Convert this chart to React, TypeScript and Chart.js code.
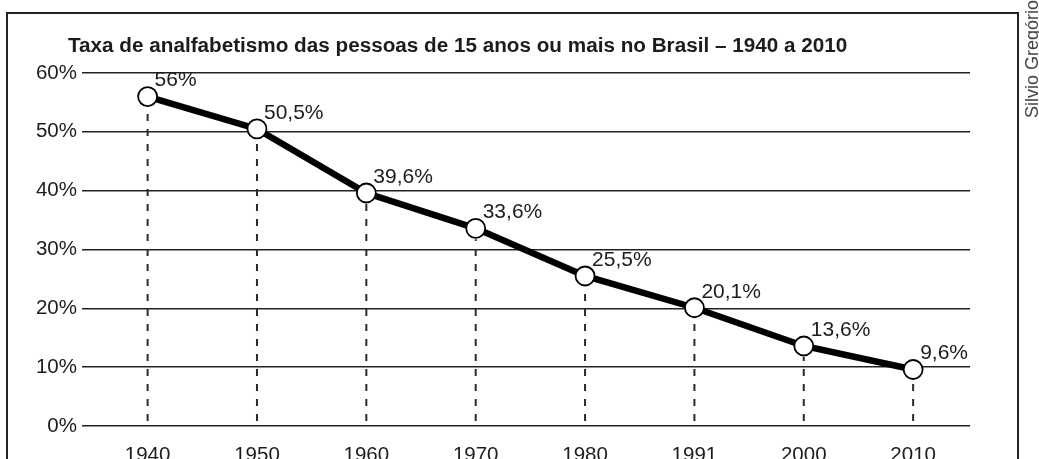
import React, { useEffect, useRef } from "react";
import { Chart, registerables } from "chart.js";

Chart.register(...registerables);

const years = ["1940", "1950", "1960", "1970", "1980", "1991", "2000", "2010"];
const rates = [56, 50.5, 39.6, 33.6, 25.5, 20.1, 13.6, 9.6];
const rateLabels = ["56%", "50,5%", "39,6%", "33,6%", "25,5%", "20,1%", "13,6%", "9,6%"];
const yTickValues = [0, 10, 20, 30, 40, 50, 60];
const chartTitle = "Taxa de analfabetismo das pessoas de 15 anos ou mais no Brasil – 1940 a 2010";
const credit = "Silvio Gregório";

const FONT = "'Liberation Sans', Arial, Helvetica, sans-serif";
const INK = "#1c1c1c";

const framePlugin = {
  id: "frame",
  beforeDraw(chart: any) {
    const { ctx, width, height } = chart;
    ctx.save();
    ctx.fillStyle = "#ffffff";
    ctx.fillRect(0, 0, width, height);
    // frame
    ctx.strokeStyle = "#222";
    ctx.lineWidth = 2;
    ctx.beginPath();
    ctx.moveTo(7, height + 5);
    ctx.lineTo(7, 13);
    ctx.lineTo(1018, 13);
    ctx.lineTo(1018, height + 5);
    ctx.stroke();
    // title
    ctx.fillStyle = INK;
    ctx.font = `bold 20.7px ${FONT}`;
    ctx.textAlign = "left";
    ctx.textBaseline = "middle";
    ctx.fillText(chartTitle, 68, 46);
    // credit (vertical)
    ctx.translate(1038, 118);
    ctx.rotate(-Math.PI / 2);
    ctx.fillStyle = "#444";
    ctx.font = `18px ${FONT}`;
    ctx.textBaseline = "alphabetic";
    ctx.fillText(credit, 0, 0);
    ctx.restore();
  },
};

const dropLinesPlugin = {
  id: "dropLines",
  beforeDatasetsDraw(chart: any) {
    const { ctx, chartArea } = chart;
    const meta = chart.getDatasetMeta(0);
    ctx.save();
    ctx.strokeStyle = "#2a2a2a";
    ctx.lineWidth = 2;
    ctx.setLineDash([7, 8]);
    meta.data.forEach((pt: any) => {
      ctx.beginPath();
      ctx.moveTo(pt.x, chartArea.bottom - 5);
      ctx.lineTo(pt.x, pt.y + 11);
      ctx.stroke();
    });
    ctx.restore();
  },
};

const valueLabelsPlugin = {
  id: "valueLabels",
  afterDatasetsDraw(chart: any) {
    const { ctx } = chart;
    const meta = chart.getDatasetMeta(0);
    ctx.save();
    ctx.fillStyle = INK;
    ctx.font = `21px ${FONT}`;
    ctx.textAlign = "left";
    ctx.textBaseline = "middle";
    meta.data.forEach((pt: any, i: number) => {
      ctx.fillText(rateLabels[i], pt.x + 7, pt.y - 16);
    });
    ctx.restore();
  },
};

export default function App() {
  const canvasRef = useRef<HTMLCanvasElement | null>(null);

  useEffect(() => {
    document.body.style.margin = "0";
    const canvas = canvasRef.current;
    if (!canvas) return;
    const chart = new Chart(canvas, {
      type: "line",
      data: {
        datasets: [
          {
            data: rates.map((v, i) => ({ x: i, y: v })),
            borderColor: "#000",
            borderWidth: 6.5,
            tension: 0,
            pointRadius: 9.5,
            pointBackgroundColor: "#fff",
            pointBorderColor: "#000",
            pointBorderWidth: 1.8,
            clip: false as any,
          },
        ],
      },
      options: {
        animation: false,
        responsive: false,
        devicePixelRatio: 1,
        layout: { padding: { left: 0, right: 69, top: 73, bottom: 0 } },
        plugins: {
          legend: { display: false },
          title: { display: false },
          tooltip: { enabled: false },
        },
        scales: {
          x: {
            type: "linear",
            min: -0.6,
            max: 7.52,
            grid: { display: false },
            border: { display: false },
            ticks: {
              stepSize: 1,
              includeBounds: false,
              autoSkip: false,
              maxRotation: 0,
              padding: 9,
              color: INK,
              font: { family: FONT, size: 20.5 },
              callback: (v: any) => years[v] ?? "",
            },
            afterFit: (s: any) => {
              s.height = 33;
            },
          },
          y: {
            min: yTickValues[0],
            max: yTickValues[yTickValues.length - 1],
            grid: { color: "#222", lineWidth: 1.6, drawTicks: false },
            border: { display: false },
            ticks: {
              stepSize: 10,
              padding: 5,
              color: INK,
              font: { family: FONT, size: 20.5 },
              callback: (v: any) => `${v}%`,
            },
            afterFit: (s: any) => {
              s.width = 82;
            },
          },
        },
      },
      plugins: [framePlugin, dropLinesPlugin, valueLabelsPlugin],
    });
    return () => chart.destroy();
  }, []);

  return (
    <div style={{ width: 1039, height: 459 }}>
      <canvas ref={canvasRef} width={1039} height={459} style={{ display: "block" }} />
    </div>
  );
}
